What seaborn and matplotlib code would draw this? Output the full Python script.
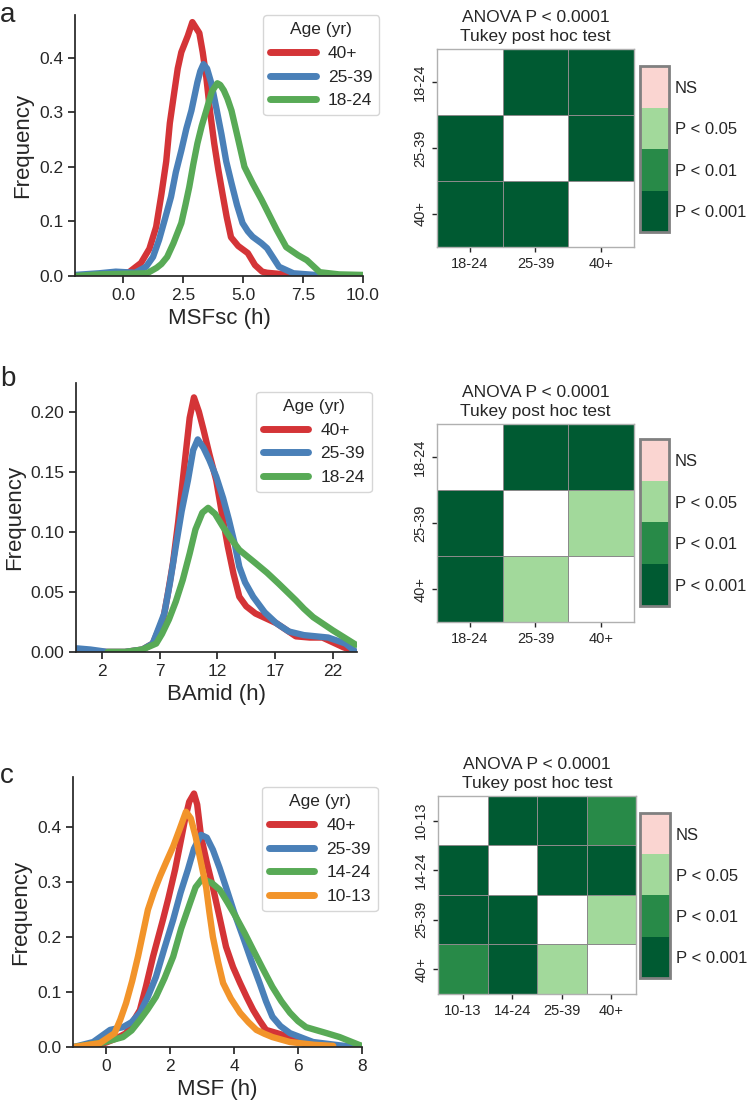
import numpy as np
import pandas as pd
import matplotlib
matplotlib.use("Agg")
import matplotlib.pyplot as plt
from matplotlib.colors import ListedColormap
import seaborn as sns

# ---------------- data ----------------
# Panel a: MSFsc density curves
a_x_40 = [-1.5, -0.5, 0.25, 0.75, 1.1, 1.38, 1.6, 1.8, 1.95, 2.13, 2.28, 2.43, 2.7, 2.89, 3.18, 3.32, 3.47, 3.63, 3.8, 3.97, 4.14, 4.32, 4.5, 4.8, 5.2, 5.5, 5.8, 6.0, 6.5, 7.0, 7.5, 8.5]
a_y_40 = [0.0, 0.002, 0.007, 0.024, 0.05, 0.09, 0.15, 0.21, 0.28, 0.335, 0.38, 0.41, 0.44, 0.465, 0.445, 0.41, 0.364, 0.30, 0.243, 0.195, 0.152, 0.108, 0.071, 0.055, 0.042, 0.02, 0.008, 0.006, 0.004, 0.002, 0.001, 0.0]
a_x_25 = [-2, -1, -0.3, 0.5, 0.96, 1.25, 1.5, 1.75, 2.0, 2.2, 2.43, 2.64, 2.85, 3.1, 3.22, 3.35, 3.5, 3.68, 3.9, 4.1, 4.3, 4.52, 4.75, 4.98, 5.2, 5.4, 5.77, 6.0, 6.5, 7.1, 8, 9]
a_y_25 = [0.002, 0.005, 0.008, 0.006, 0.017, 0.035, 0.066, 0.105, 0.145, 0.19, 0.23, 0.27, 0.303, 0.355, 0.375, 0.388, 0.38, 0.353, 0.305, 0.26, 0.21, 0.17, 0.13, 0.097, 0.082, 0.072, 0.06, 0.051, 0.017, 0.005, 0.002, 0.0]
a_x_18 = [-2, -1, 0, 1.0, 1.4, 1.6, 1.84, 2.1, 2.43, 2.6, 2.76, 2.93, 3.1, 3.28, 3.47, 3.7, 3.93, 4.05, 4.2, 4.35, 4.52, 4.8, 5.06, 5.4, 5.77, 6.0, 6.4, 6.8, 7.3, 7.66, 8.2, 9, 10]
a_y_18 = [0.0, 0.003, 0.004, 0.005, 0.015, 0.022, 0.035, 0.06, 0.097, 0.13, 0.163, 0.205, 0.243, 0.275, 0.303, 0.338, 0.353, 0.35, 0.34, 0.325, 0.303, 0.25, 0.2, 0.17, 0.14, 0.12, 0.085, 0.053, 0.038, 0.029, 0.007, 0.003, 0.002]

# Panel b: BAmid density curves
b_x_40 = [-0.2, 2, 4, 5.5, 6.4, 7.3, 7.7, 8.15, 8.6, 9.0, 9.6, 9.97, 10.4, 10.8, 11.3, 11.9, 12.4, 12.9, 13.4, 13.9, 14.5, 15.3, 16.2, 17.1, 18.8, 20, 21.1, 22.9, 24.0]
b_y_40 = [0.0, 0.0, 0.0, 0.002, 0.007, 0.027, 0.048, 0.074, 0.108, 0.143, 0.195, 0.212, 0.2, 0.185, 0.165, 0.143, 0.115, 0.088, 0.065, 0.046, 0.038, 0.032, 0.028, 0.024, 0.013, 0.012, 0.012, 0.004, 0.0]
b_x_25 = [-0.2, 1, 2.5, 4, 5.5, 6.4, 7.4, 7.9, 8.4, 8.9, 9.45, 9.9, 10.3, 10.8, 11.3, 11.9, 12.5, 13.0, 13.5, 13.9, 14.4, 15.1, 16.1, 17.1, 18.2, 19.5, 21.6, 23.1, 24.0]
b_y_25 = [0.003, 0.002, 0.0, 0.0, 0.002, 0.007, 0.032, 0.058, 0.088, 0.117, 0.143, 0.168, 0.177, 0.17, 0.16, 0.146, 0.128, 0.11, 0.09, 0.071, 0.058, 0.046, 0.033, 0.024, 0.017, 0.014, 0.012, 0.007, 0.0]
b_x_18 = [2.5, 4, 5.5, 6.7, 7.2, 7.8, 8.4, 9.0, 9.6, 10.1, 10.7, 11.2, 11.8, 12.5, 13.2, 13.9, 15.3, 16.3, 17.3, 18.8, 19.5, 20.3, 22.0, 23, 24.0]
b_y_18 = [0.0, 0.0, 0.002, 0.007, 0.015, 0.027, 0.042, 0.06, 0.082, 0.102, 0.116, 0.12, 0.115, 0.104, 0.094, 0.085, 0.074, 0.066, 0.057, 0.043, 0.036, 0.029, 0.018, 0.012, 0.006]

# Panel c: MSF density curves
c_x_40 = [-0.5, 0.0, 0.3, 0.63, 1.06, 1.25, 1.47, 1.78, 1.95, 2.16, 2.47, 2.6, 2.75, 2.85, 2.97, 3.15, 3.34, 3.55, 3.75, 3.97, 4.19, 4.4, 4.6, 4.8, 5.0, 5.35, 5.75, 6.25, 6.6]
c_y_40 = [0.0, 0.008, 0.015, 0.025, 0.067, 0.11, 0.164, 0.231, 0.27, 0.322, 0.413, 0.445, 0.46, 0.44, 0.382, 0.335, 0.29, 0.235, 0.182, 0.145, 0.116, 0.09, 0.067, 0.048, 0.031, 0.025, 0.018, 0.004, 0.0]
c_x_25 = [-1.0, -0.4, 0.13, 0.53, 0.8, 1.06, 1.3, 1.56, 1.83, 2.1, 2.33, 2.56, 2.75, 2.97, 3.15, 3.34, 3.55, 3.75, 4.0, 4.28, 4.55, 4.8, 5.0, 5.2, 5.45, 5.75, 6.47, 7.3, 7.8]
c_y_25 = [0.0, 0.009, 0.031, 0.036, 0.045, 0.062, 0.09, 0.127, 0.18, 0.231, 0.28, 0.322, 0.36, 0.385, 0.38, 0.358, 0.325, 0.29, 0.245, 0.2, 0.155, 0.116, 0.083, 0.055, 0.038, 0.025, 0.009, 0.003, 0.0]
c_x_14 = [-1.0, -0.1, 0.53, 0.8, 1.06, 1.3, 1.56, 1.83, 2.1, 2.35, 2.63, 2.8, 3.0, 3.3, 3.56, 3.8, 4.06, 4.33, 4.6, 4.9, 5.2, 5.48, 5.75, 6.0, 6.25, 6.9, 7.3, 7.9, 8.0]
c_y_14 = [0.0, 0.008, 0.018, 0.03, 0.049, 0.068, 0.091, 0.125, 0.164, 0.215, 0.262, 0.29, 0.305, 0.298, 0.285, 0.262, 0.236, 0.207, 0.176, 0.142, 0.109, 0.083, 0.062, 0.047, 0.036, 0.025, 0.018, 0.004, 0.002]
c_x_10 = [-1.0, -0.19, 0.27, 0.45, 0.63, 0.82, 1.0, 1.15, 1.31, 1.5, 1.69, 1.9, 2.1, 2.3, 2.5, 2.65, 2.8, 2.95, 3.13, 3.23, 3.34, 3.5, 3.66, 3.9, 4.19, 4.45, 4.7, 4.95, 5.2, 5.75, 6.5, 7.1]
c_y_10 = [0.0, 0.007, 0.025, 0.05, 0.08, 0.12, 0.164, 0.205, 0.249, 0.282, 0.31, 0.338, 0.364, 0.395, 0.427, 0.415, 0.382, 0.34, 0.29, 0.245, 0.2, 0.155, 0.116, 0.088, 0.062, 0.045, 0.031, 0.024, 0.018, 0.009, 0.004, 0.002]

# Heatmaps: significance codes 0 = P<0.001, 1 = P<0.01, 2 = P<0.05, 3 = NS; NaN on diagonal
groups_ab = ["18-24", "25-39", "40+"]
groups_c = ["10-13", "14-24", "25-39", "40+"]
sig_a = [[np.nan, 0, 0], [0, np.nan, 0], [0, 0, np.nan]]
sig_b = [[np.nan, 0, 0], [0, np.nan, 2], [0, 2, np.nan]]
sig_c = [[np.nan, 0, 0, 1], [0, np.nan, 0, 0], [0, 0, np.nan, 2], [1, 0, 2, np.nan]]
sig_labels = ["P < 0.001", "P < 0.01", "P < 0.05", "NS"]

# ---------------- style ----------------
sns.set_theme(style="ticks")
plt.rcParams["font.family"] = ["Liberation Sans", "DejaVu Sans"]
TXT = "#262626"
plt.rcParams.update({
    "text.color": TXT, "axes.labelcolor": TXT, "xtick.color": TXT, "ytick.color": TXT,
    "axes.edgecolor": TXT, "axes.linewidth": 1.25,
})

colors = {"40+": "#d43437", "25-39": "#4a80b8", "18-24": "#58aa56", "14-24": "#58aa56", "10-13": "#f2942a"}
sig_cmap = ListedColormap(["#005a32", "#288a48", "#a2d99b", "#fad5d1"])

fig = plt.figure(figsize=(7.48, 11.05), dpi=100)

def kde_panel(rect, series, order, xlabel, xlim, ylim, xticks, leg_anchor):
    ax = fig.add_axes(rect)
    frames = []
    for name in order:
        xs, ys = series[name]
        frames.append(pd.DataFrame({"x": xs, "y": ys, "Age (yr)": name}))
    df = pd.concat(frames, ignore_index=True)
    sns.lineplot(data=df, x="x", y="y", hue="Age (yr)", hue_order=order,
                 palette=[colors[o] for o in order], estimator=None, sort=False,
                 lw=4.6, solid_capstyle="round", solid_joinstyle="round", ax=ax)
    ax.set_xlim(*xlim)
    ax.set_ylim(*ylim)
    ax.set_xticks(xticks)
    ax.set_xlabel(xlabel, fontsize=16)
    ax.set_ylabel("Frequency", fontsize=16)
    ax.tick_params(labelsize=12.5, length=5, width=1.25)
    sns.despine(ax=ax)
    leg = ax.legend(title="Age (yr)", loc="upper right", bbox_to_anchor=leg_anchor,
                    borderaxespad=0, fontsize=12.5, title_fontsize=12.5,
                    handlelength=2.6, handletextpad=0.7, labelspacing=0.5,
                    frameon=True, edgecolor="#cccccc")
    for line in leg.get_lines():
        line.set_linewidth(5)
        line.set_solid_capstyle("round")
    return ax

def heat_panel(rect, crect, mat, labels):
    ax = fig.add_axes(rect)
    cax = fig.add_axes(crect)
    df = pd.DataFrame(mat, index=labels, columns=labels)
    sns.heatmap(df, ax=ax, cbar_ax=cax, cmap=sig_cmap, vmin=-0.5, vmax=3.5,
                linewidths=0.6, linecolor="#8a8a8a", square=False)
    for s in ax.spines.values():
        s.set_visible(True)
        s.set_color("#b0b0b0")
        s.set_linewidth(1.0)
    ax.set_xlabel("")
    ax.set_ylabel("")
    ax.tick_params(labelsize=10.5, length=3.5, width=1.0, color=TXT)
    ax.set_yticklabels(labels, rotation=90, va="center")
    ax.set_xticklabels(labels, rotation=0)
    ax.set_title("ANOVA P < 0.0001\nTukey post hoc test", fontsize=12.5, pad=6, linespacing=1.3)
    cb = ax.collections[0].colorbar
    cb.set_ticks([0, 1, 2, 3])
    cb.set_ticklabels(sig_labels)
    cax.tick_params(length=0, labelsize=12, pad=4)
    cb.outline.set_edgecolor("#808080")
    cb.outline.set_linewidth(2)
    return ax

# Panel a
kde_panel([0.1003, 0.7502, 0.385, 0.2362],
          {"40+": (a_x_40, a_y_40), "25-39": (a_x_25, a_y_25), "18-24": (a_x_18, a_y_18)},
          ["40+", "25-39", "18-24"], "MSFsc (h)", (-2, 10), (0, 0.478),
          [0, 2.5, 5, 7.5, 10], (1.056, 1.0))
heat_panel([0.5842, 0.7765, 0.2634, 0.1792], [0.8556, 0.790, 0.0388, 0.1502], sig_a, groups_ab)

# Panel b
kde_panel([0.1016, 0.41, 0.3757, 0.2434],
          {"40+": (b_x_40, b_y_40), "25-39": (b_x_25, b_y_25), "18-24": (b_x_18, b_y_18)},
          ["40+", "25-39", "18-24"], "BAmid (h)", (-0.25, 24.1), (0, 0.224),
          [2, 7, 12, 17, 22], (1.053, 0.967))
heat_panel([0.5842, 0.4371, 0.2634, 0.1792], [0.8556, 0.4516, 0.0388, 0.1511], sig_b, groups_ab)

# Panel c
kde_panel([0.0976, 0.0525, 0.3864, 0.2443],
          {"40+": (c_x_40, c_y_40), "25-39": (c_x_25, c_y_25), "14-24": (c_x_14, c_y_14), "10-13": (c_x_10, c_y_10)},
          ["40+", "25-39", "14-24", "10-13"], "MSF (h)", (-1.03, 8.0), (0, 0.49),
          [0, 2, 4, 6, 8], (1.055, 0.963))
heat_panel([0.5856, 0.1005, 0.2647, 0.1792], [0.8556, 0.115, 0.0401, 0.1493], sig_c, groups_c)

# Panel letters
fig.text(0.0, 1 - 22 / 1105, "a", fontsize=20, va="baseline", ha="left")
fig.text(0.0, 1 - 386 / 1105, "b", fontsize=20, va="baseline", ha="left")
fig.text(0.0, 1 - 783 / 1105, "c", fontsize=20, va="baseline", ha="left")

fig.savefig("out.png", dpi=100)
